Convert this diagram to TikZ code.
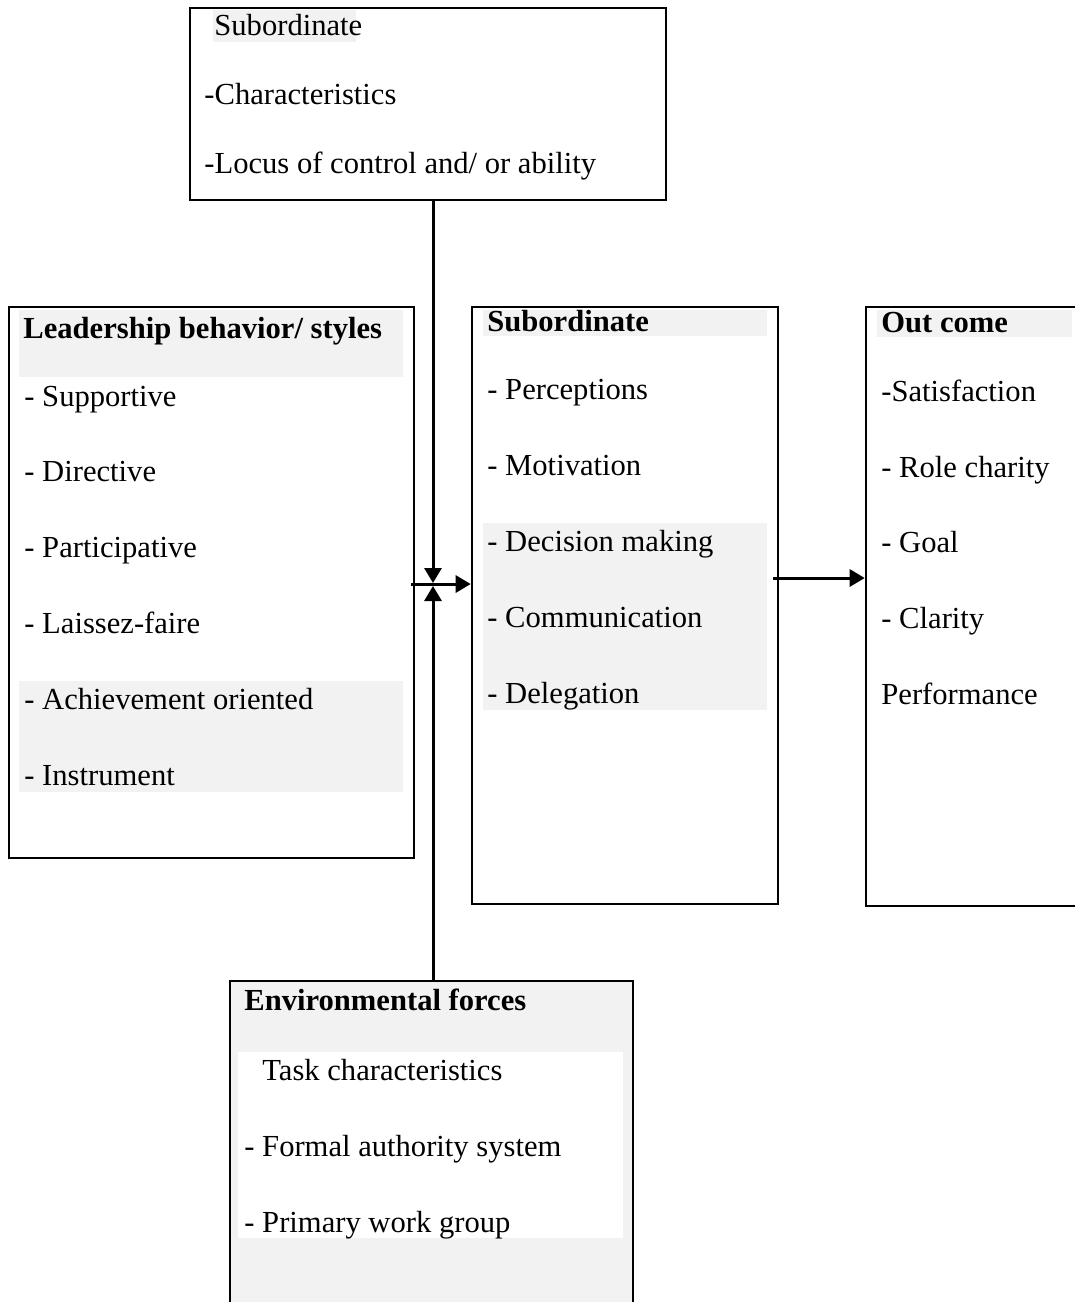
\documentclass[tikz,border=0pt]{standalone}
\usepackage{fontspec}
\setmainfont{Liberation Serif}
\usetikzlibrary{arrows.meta}
\definecolor{bandgray}{HTML}{F2F2F2}
\tikzset{
  box/.style={draw, line width=1.3pt, inner sep=0pt},
  txt/.style={anchor=base west, inner sep=0pt, font=\fontsize{15.3}{18}\selectfont},
  hd/.style={txt, font=\fontsize{15.3}{18}\selectfont\bfseries},
  arr/.style={line width=1.5pt, -{Triangle[length=7.5pt, width=8.5pt]}}
}
\begin{document}
\begin{tikzpicture}[x=0.5pt, y=-0.5pt]

    % Page frame of the reference
    \clip (0,0) rectangle (1075,1302);
    \useasboundingbox (0,0) rectangle (1075,1302);

    % The five boxes
    \node[box, minimum width=238pt, minimum height=96pt] (top) at (428,104) {};          % Subordinate characteristics
    \node[box, minimum width=202.5pt, minimum height=275.5pt] (lead) at (211.5,582.5) {}; % Leadership styles
    \node[box, minimum width=153pt, minimum height=298.5pt] (sub) at (625,605.5) {};      % Subordinate
    \node[box, minimum width=112pt, minimum height=299.5pt] (out) at (978,606.5) {};      % Out come
    \node[box, fill=bandgray, minimum width=201.5pt, minimum height=169.5pt] (env) at (431.5,1150.5) {}; % Environmental forces

    % Shaded bands behind the texts
    \fill[bandgray] (213,10) rectangle (356,42);      % top heading
    \fill[bandgray] (19,310) rectangle (403,377);     % leadership heading
    \fill[bandgray] (19,681) rectangle (403,792);     % last two styles
    \fill[bandgray] (483,310) rectangle (767,336);    % subordinate heading
    \fill[bandgray] (483,523) rectangle (767,710);    % last three items
    \fill[bandgray] (877,310) rectangle (1072,337);   % out come heading
    \fill[white] (238,1052) rectangle (623,1238);     % white band in env box

    % Texts of the top box
    \node[txt] (top0) at (214,35) {Subordinate};
    \node[txt] (top1) at (204,104) {-Characteristics};
    \node[txt] (top2) at (204,173) {-Locus of control and/ or ability};

    % Texts of the leadership box
    \node[hd] (lead0) at (23,338) {Leadership behavior/ styles};
    \node[txt] (lead1) at (24,406) {- Supportive};
    \node[txt] (lead2) at (24,481) {- Directive};
    \node[txt] (lead3) at (24,557) {- Participative};
    \node[txt] (lead4) at (24,633) {- Laissez-faire};
    \node[txt] (lead5) at (24,709) {- Achievement oriented};
    \node[txt] (lead6) at (24,785) {- Instrument};

    % Texts of the subordinate box
    \node[hd] (sub0) at (487,331) {Subordinate};
    \node[txt] (sub1) at (487,399) {- Perceptions};
    \node[txt] (sub2) at (487,475) {- Motivation};
    \node[txt] (sub3) at (487,551) {- Decision making};
    \node[txt] (sub4) at (487,627) {- Communication};
    \node[txt] (sub5) at (487,703) {- Delegation};

    % Texts of the out come box
    \node[hd] (out0) at (881,332) {Out come};
    \node[txt] (out1) at (881,401) {-Satisfaction};
    \node[txt] (out2) at (881,477) {- Role charity};
    \node[txt] (out3) at (881,552) {- Goal};
    \node[txt] (out4) at (881,628) {- Clarity};
    \node[txt] (out5) at (881,704) {Performance};

    % Texts of the environment box
    \node[hd] (env0) at (244,1010) {Environmental forces};
    \node[txt] (env1) at (262,1080) {Task characteristics};
    \node[txt] (env2) at (244,1156) {- Formal authority system};
    \node[txt] (env3) at (244,1232) {- Primary work group};

    % Meeting point of the arrows
    \coordinate (jn) at (433,584);   % junction
    \coordinate (jt) at (433,583);   % tip from above
    \coordinate (jb) at (433,586);   % tip from below
    \coordinate (ra) at (0,578);     % height of right arrow

    % Arrows
    \draw[arr] (top.south -| jn) -- (jt);
    \draw[arr] (env.north -| jn) -- (jb);
    \draw[arr] ([xshift=-2pt]lead.east |- jn) -- (sub.west |- jn);
    \draw[arr] ([xshift=-3pt]sub.east |- ra) -- (out.west |- ra);

\end{tikzpicture}
\end{document}
